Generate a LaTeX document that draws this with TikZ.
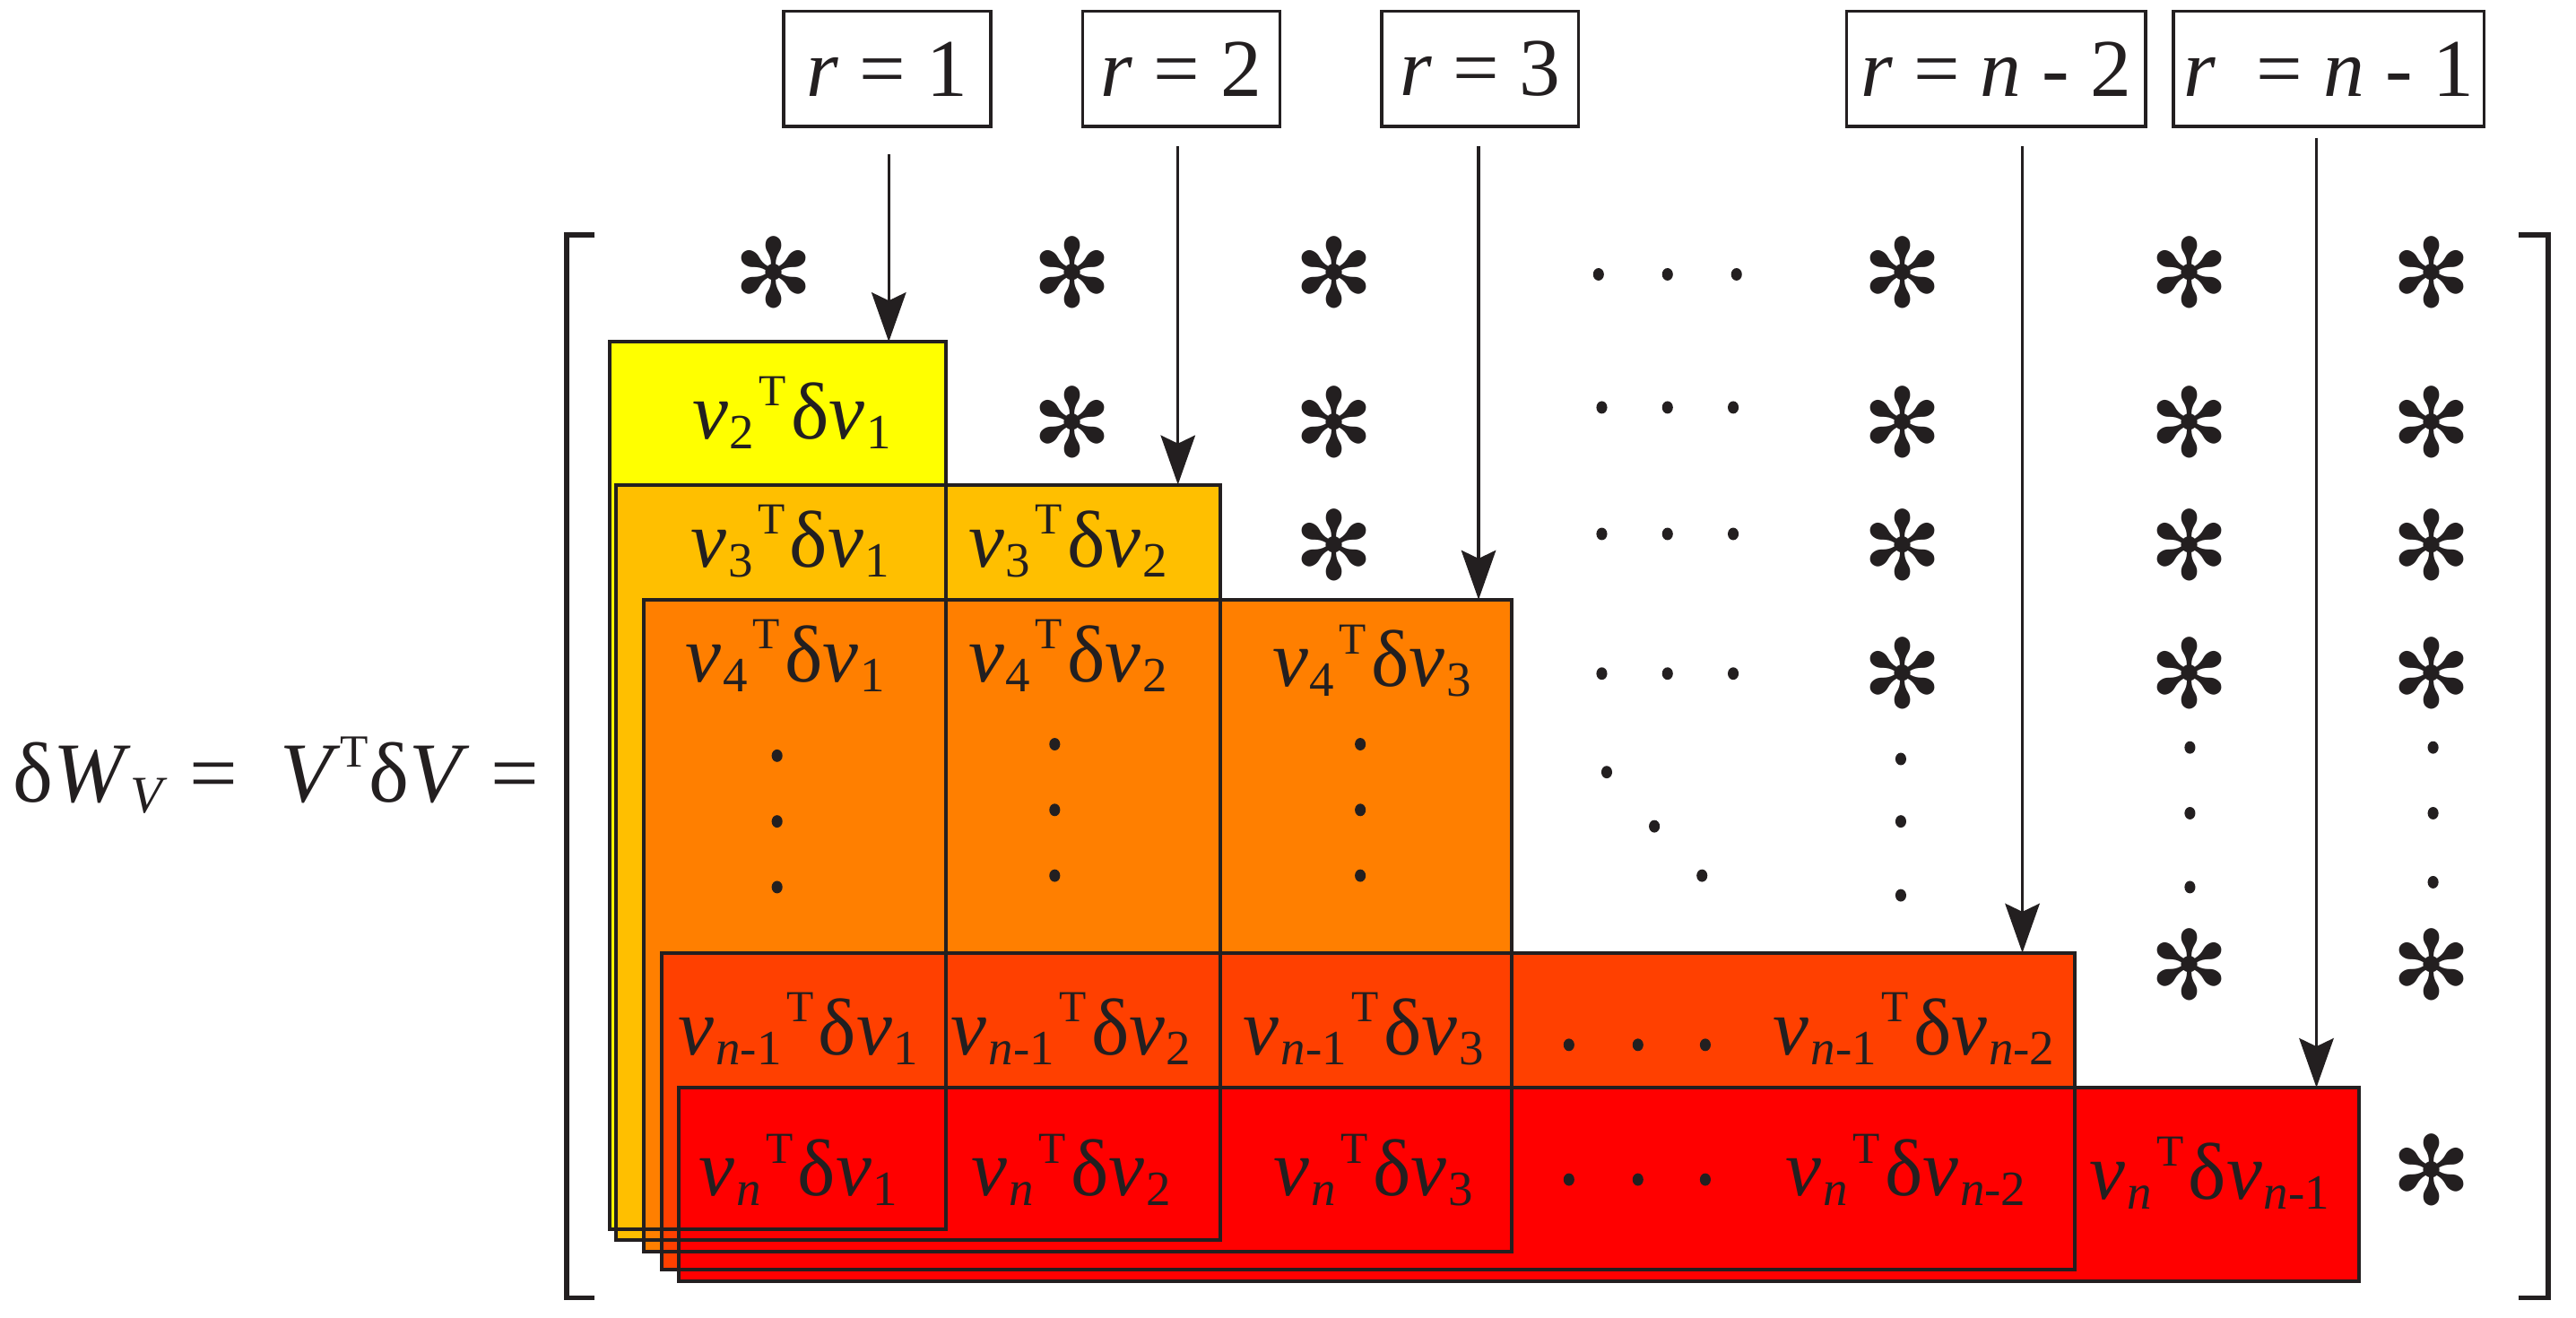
\documentclass[tikz,border=0pt]{standalone}
\usepackage{fontspec}
\setmainfont{Liberation Serif}
\newfontfamily\djv{DejaVu Sans}
\usetikzlibrary{arrows.meta,calc}
\definecolor{ink}{HTML}{231F20}
\definecolor{cY}{HTML}{FFFF00}
\definecolor{cLO}{HTML}{FFBF00}
\definecolor{cO}{HTML}{FF7F00}
\definecolor{cRO}{HTML}{FF4000}
\definecolor{cR}{HTML}{FF0000}
\newcommand{\sbs}[1]{\raisebox{-6pt}{\fontsize{30}{30}\selectfont #1}}
\newcommand{\spT}{\raisebox{20pt}{\fontsize{27}{27}\selectfont T}}
\newcommand{\ent}[2]{\textit{v}\kern1pt\sbs{#1}\kern3pt\spT\kern3pt δ\textit{v}\kern1pt\sbs{#2}}
\newcommand{\nn}{\textit{n}}
\newcommand{\astk}{\raisebox{-23pt}[20pt][20pt]{\djv\fontsize{58}{58}\selectfont ✻}}
\tikzset{
  blk/.style={inner sep=0pt, outer sep=0pt, anchor=north west, draw=none},
  txt/.style={inner sep=0pt, anchor=base, text=ink, font=\fontsize{49}{49}\selectfont},
  lab/.style={draw=ink, line width=1.8pt, inner sep=0pt, text=ink, font=\fontsize{50}{50}\selectfont, minimum height=70pt},
  arr/.style={draw=ink, line width=1.8pt, -{Stealth[length=30pt,width=21pt,inset=5pt]}},
  boxedge/.style={draw=ink, line width=2.2pt},
  brk/.style={draw=ink, line width=3pt},
  st/.style={inner sep=0pt, anchor=center, text=ink},
}
\begin{document}
\begin{tikzpicture}[x=1pt,y=-1pt]
\useasboundingbox (0,0) rectangle (1568,802);
% coloured blocks
\node[blk, fill=cY,  minimum width=205pt,  minimum height=540pt] (Y)  at (371,208) {};
\node[blk, fill=cLO, minimum width=368pt,  minimum height=460pt] (LO) at (375,295) {};
\node[blk, fill=cO,  minimum width=528pt,  minimum height=397pt] (O)  at (392,365) {};
\node[blk, fill=cRO, minimum width=860pt,  minimum height=193pt] (RO) at (403,580) {};
\node[blk, fill=cR,  minimum width=1023pt, minimum height=118pt] (R)  at (413,662) {};
\foreach \b in {Y,LO,O,RO,R} \draw[boxedge] (\b.north west) rectangle (\b.south east);
% brackets
\draw[brk] (362,143) -- (345,143) -- (345,790) -- (362,790);
\draw[brk] (1533,143) -- (1551,143) -- (1551,790) -- (1533,790);
% labels
\node[lab, minimum width=126pt] (l1) at (540,42) {\textit{r} = 1};
\node[lab, minimum width=120pt] (l2) at (719,42) {\textit{r} = 2};
\node[lab, minimum width=120pt] (l3) at (901,42) {\textit{r} = 3};
\node[lab, minimum width=182pt] (l4) at (1215,42) {\textit{r} = \nn{} - 2};
\node[lab, minimum width=189pt] (l5) at (1417.5,42) {\textit{r}\ \ = \nn{} - 1};
% arrows
\coordinate (a1s) at ($(l1.south)+(1,16)$);   \coordinate (a1e) at (a1s |- Y.north);
\coordinate (a2s) at ($(l2.south)+(-2,11)$);  \coordinate (a2e) at (a2s |- LO.north);
\coordinate (a3s) at ($(l3.south)+(-1,11)$);  \coordinate (a3e) at (a3s |- O.north);
\coordinate (a4s) at ($(l4.south)+(16,11)$);  \coordinate (a4e) at (a4s |- RO.north);
\coordinate (a5s) at ($(l5.south)+(-7.5,6)$); \coordinate (a5e) at (a5s |- R.north);
\foreach \i in {1,...,5} \draw[arr] (a\i s) -- (a\i e);
% left label
\node[inner sep=0pt, anchor=base, text=ink, font=\fontsize{52}{52}\selectfont] (lhs) at (168,488)
  {δ\textit{W}\raisebox{-7pt}{\fontsize{32}{32}\selectfont\textit{V}} = \ \textit{V}\raisebox{21pt}{\fontsize{28}{28}\selectfont T}δ\textit{V} =};
% entries
\node[txt] (e21) at (482,267) {\ent{2}{1}};
\node[txt] (e31) at (481,345) {\ent{3}{1}};
\node[txt] (e32) at (650,345) {\ent{3}{2}};
\node[txt] (e41) at (478,415) {\ent{4}{1}};
\node[txt] (e42) at (650,415) {\ent{4}{2}};
\node[txt] (e43) at (835,418) {\ent{4}{3}};
\node[txt] (em1) at (486,642) {\ent{\nn-1}{1}};
\node[txt] (em2) at (652,642) {\ent{\nn-1}{2}};
\node[txt] (em3) at (830,642) {\ent{\nn-1}{3}};
\node[txt] (emk) at (1165,642) {\ent{\nn-1}{\nn-2}};
\node[txt] (en1) at (486,728) {\ent{\nn}{1}};
\node[txt] (en2) at (652,728) {\ent{\nn}{2}};
\node[txt] (en3) at (836,728) {\ent{\nn}{3}};
\node[txt] (enk) at (1160,728) {\ent{\nn}{\nn-2}};
\node[txt] (enm) at (1345,730) {\ent{\nn}{\nn-1}};
% stars
\foreach \x/\y [count=\k] in {471/164,653/164,812/164,1158/164,1333/164,1480/164,
   653/255,812/255,1158/255,1333/255,1480/255,
   812/330,1158/330,1333/330,1480/330,
   1158/408,1333/408,1480/408,
   1333/585,1480/585,1480/710}
  \node[st] (s\k) at (\x,\y) {\astk};
% dots
\foreach \x/\y in {973/167,1015/167,1057/167, 975/248,1015/248,1055/248,
   975/325,1015/325,1055/325, 975/410,1015/410,1055/410,
   473/460,473/500,473/540, 642/453,642/493,642/533, 828/453,828/493,828/533,
   978/470,1007/503,1036/533,
   1157/462,1157/500,1157/545, 1333/455,1333/495,1333/540, 1481/455,1481/495,1481/537,
   955/636,997/636,1038/636, 955/718,997/718,1038/718}
  \fill[ink] (\x,\y) ellipse [x radius=3.3, y radius=3.8];
\end{tikzpicture}
\end{document}
